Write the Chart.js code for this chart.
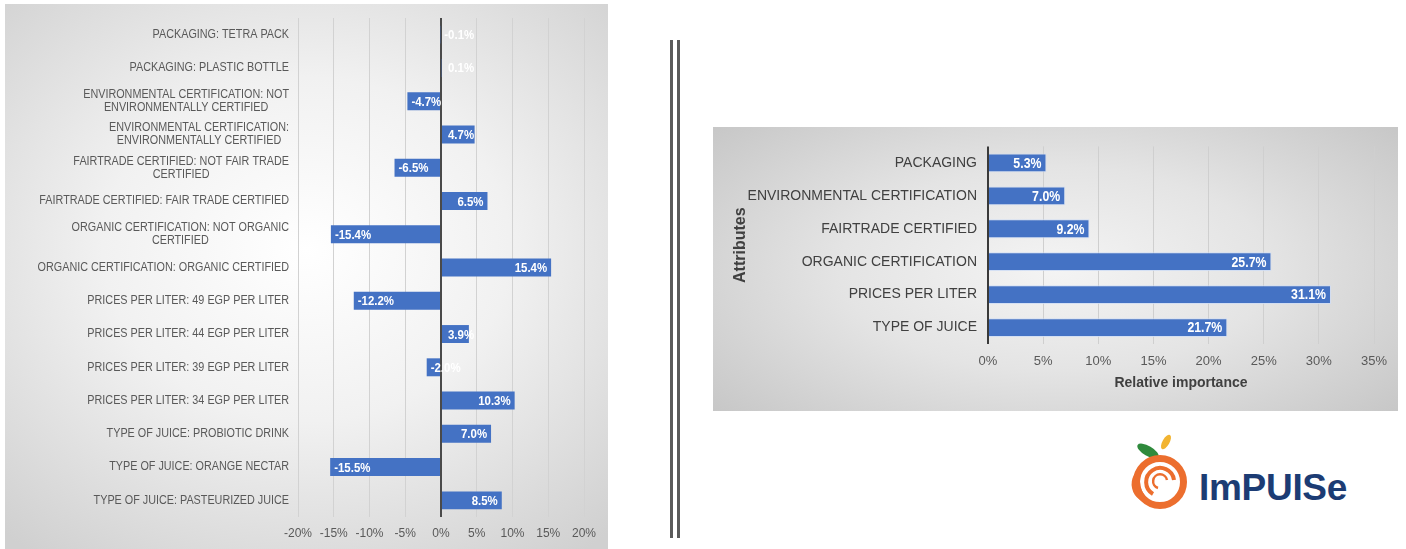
<!DOCTYPE html>
<html lang="en">
<head>
<meta charset="utf-8">
<title>Part-worth utilities and relative importance</title>
<script src="https://cdn.jsdelivr.net/npm/chart.js@4.4.1/dist/chart.umd.min.js"></script>
<style>
    html, body { margin: 0; padding: 0; background: #fff; }
    body {
        width: 1406px; height: 549px; position: relative; overflow: hidden;
        font-family: 'Liberation Sans', sans-serif;
    }
    .panel { position: absolute; }
    .panel canvas { position: absolute; left: 0; top: 0; }
    #panel-util {
        left: 5px; top: 4px; width: 603px; height: 545px;
        background: radial-gradient(ellipse 75% 70% at 50% 45%, #ffffff 0%, #f1f1f1 45%, #d0d0d0 100%);
    }
    #panel-imp {
        left: 713px; top: 127px; width: 685px; height: 284px;
        background: radial-gradient(ellipse 70% 80% at 50% 50%, #f4f4f4 0%, #e4e4e4 45%, #c4c4c4 100%);
    }
    .divider { position: absolute; top: 40px; width: 3px; height: 498px; background: #5a5a5a; }
    #logo { position: absolute; left: 1125px; top: 430px; width: 260px; height: 85px; }
    #logo svg { position: absolute; left: 0; top: 0; }
    #logo span {
        position: absolute; left: 74px; top: 38px;
        font-family: 'Liberation Sans', Arial, sans-serif; font-weight: bold;
        font-size: 37px; line-height: 40px; color: #1c3c74; letter-spacing: -0.3px;
    }
</style>
</head>
<body>

<div class="panel" id="panel-util"><canvas id="grafico-utilidades" width="603" height="545"></canvas></div>
<div class="divider" style="left:670px"></div>
<div class="divider" style="left:677px"></div>
<div class="panel" id="panel-imp"><canvas id="grafico-importancia" width="685" height="284"></canvas></div>

<div id="logo">
    <svg width="75" height="85" viewBox="0 0 75 85">
        <ellipse cx="23" cy="21" rx="12" ry="5" fill="#2f8a3c" transform="rotate(30 23 21)"/>
        <ellipse cx="41" cy="12" rx="8" ry="3.5" fill="#f2b431" transform="rotate(-60 41 12)"/>
        <circle cx="35" cy="52" r="23.5" fill="none" stroke="#ec6e2e" stroke-width="7"/>
        <path d="M20 36 A19 19 0 0 0 28 73 A25 25 0 0 1 20 36 Z" fill="#ec6e2e"/>
        <path d="M28 64 A14 14 0 1 1 49 50" fill="none" stroke="#ec6e2e" stroke-width="4"/>
        <path d="M33 58 A7 7 0 1 1 42 50" fill="none" stroke="#ec6e2e" stroke-width="2.5"/>
    </svg>
    <span>ImPUISe</span>
</div>

<script>
'use strict';

/* ─────────────────────────────────────────────────────────────────────────────
   DATOS
───────────────────────────────────────────────────────────────────────────── */
const nivelesAtributo = [
    'PACKAGING: TETRA PACK',
    'PACKAGING: PLASTIC BOTTLE',
    ['ENVIRONMENTAL CERTIFICATION: NOT', 'ENVIRONMENTALLY CERTIFIED'],
    ['ENVIRONMENTAL CERTIFICATION:', 'ENVIRONMENTALLY CERTIFIED'],
    ['FAIRTRADE CERTIFIED: NOT FAIR TRADE', 'CERTIFIED'],
    'FAIRTRADE CERTIFIED: FAIR TRADE CERTIFIED',
    ['ORGANIC CERTIFICATION: NOT ORGANIC', 'CERTIFIED'],
    'ORGANIC CERTIFICATION: ORGANIC CERTIFIED',
    'PRICES PER LITER: 49 EGP PER LITER',
    'PRICES PER LITER: 44 EGP PER LITER',
    'PRICES PER LITER: 39 EGP PER LITER',
    'PRICES PER LITER: 34 EGP PER LITER',
    'TYPE OF JUICE: PROBIOTIC DRINK',
    'TYPE OF JUICE: ORANGE NECTAR',
    'TYPE OF JUICE: PASTEURIZED JUICE'
];
const utilidades = [-0.1, 0.1, -4.7, 4.7, -6.5, 6.5, -15.4, 15.4, -12.2, 3.9, -2.0, 10.3, 7.0, -15.5, 8.5];
const ticksUtilidad = [-20, -15, -10, -5, 0, 5, 10, 15, 20];

const atributos = [
    'PACKAGING',
    'ENVIRONMENTAL CERTIFICATION',
    'FAIRTRADE CERTIFIED',
    'ORGANIC CERTIFICATION',
    'PRICES PER LITER',
    'TYPE OF JUICE'
];
const importancia = [5.3, 7.0, 9.2, 25.7, 31.1, 21.7];
const ticksImportancia = [0, 5, 10, 15, 20, 25, 30, 35];

const AZUL = '#4472c4';
const FUENTE = "'Liberation Sans', sans-serif";

Chart.defaults.font.family = FUENTE;
Chart.defaults.animation = false;

/* ─────────────────────────────────────────────────────────────────────────────
   ETIQUETAS DE VALOR EN LAS BARRAS
   Positivas: alineadas al final de la barra (sin cruzar el eje cero).
   Negativas: pegadas al extremo izquierdo de la barra.
───────────────────────────────────────────────────────────────────────────── */
const etiquetasBarras = {
    id: 'etiquetasBarras',
    afterDatasetsDraw(chart, args, opts) {
        const { ctx } = chart;
        const meta = chart.getDatasetMeta(0);
        const valores = chart.data.datasets[0].data;
        ctx.save();
        ctx.font = opts.font;
        ctx.fillStyle = opts.color;
        ctx.textBaseline = 'middle';
        ctx.textAlign = 'left';
        meta.data.forEach((barra, i) => {
            const v = valores[i];
            const texto = v.toFixed(1) + '%';
            const ancho = ctx.measureText(texto).width * opts.condensar;
            let x;
            if (v >= 0) x = Math.max(barra.x - opts.margen - ancho, barra.base + 6);
            else x = barra.x + opts.margen;
            ctx.save();
            ctx.translate(x, barra.y + 1);
            ctx.scale(opts.condensar, 1);
            ctx.fillText(texto, 0, 0);
            ctx.restore();
        });
        ctx.restore();
    }
};

/* ─────────────────────────────────────────────────────────────────────────────
   ETIQUETAS DE CATEGORÍA (eje Y)
   Las líneas de cada etiqueta van centradas entre sí, y el bloque queda
   alineado a la derecha junto al área del gráfico. Texto algo estrechado.
───────────────────────────────────────────────────────────────────────────── */
const etiquetasCategoria = {
    id: 'etiquetasCategoria',
    afterDraw(chart, args, opts) {
        const { ctx } = chart;
        const escala = chart.scales.y;
        const derecha = escala.right - opts.separacion;
        ctx.save();
        ctx.font = opts.font;
        ctx.fillStyle = opts.color;
        ctx.textBaseline = 'middle';
        ctx.textAlign = 'center';
        chart.data.labels.forEach((etiqueta, i) => {
            const lineas = Array.isArray(etiqueta) ? etiqueta : [etiqueta];
            const anchos = lineas.map(l => ctx.measureText(l).width * opts.condensar);
            const cx = derecha - Math.max(...anchos) / 2;
            const y0 = escala.getPixelForValue(i) - (lineas.length - 1) * opts.interlineado / 2;
            lineas.forEach((l, k) => {
                ctx.save();
                ctx.translate(cx, y0 + k * opts.interlineado);
                ctx.scale(opts.condensar, 1);
                ctx.fillText(l, 0, 0);
                ctx.restore();
            });
        });
        ctx.restore();
    }
};

function ejeTicks(valores) {
    return scale => {
        scale.ticks = valores.map(v => ({ value: v }));
    };
}

/* ─────────────────────────────────────────────────────────────────────────────
   UTILIDADES POR NIVEL (izquierda)
───────────────────────────────────────────────────────────────────────────── */
function renderUtilidades() {
    const canvas = document.getElementById('grafico-utilidades');
    new Chart(canvas, {
        type: 'bar',
        data: {
            labels: nivelesAtributo,
            datasets: [{
                data: utilidades,
                backgroundColor: AZUL,
                categoryPercentage: 0.6,
                barPercentage: 0.9
            }]
        },
        plugins: [etiquetasBarras, etiquetasCategoria],
        options: {
            indexAxis: 'y',
            responsive: false,
            layout: { padding: { top: 14, right: 24, left: 0, bottom: 0 } },
            plugins: {
                legend: { display: false },
                tooltip: { enabled: false },
                etiquetasBarras: { font: 'bold 13px ' + FUENTE, color: '#ffffff', margen: 4, condensar: 0.88 },
                etiquetasCategoria: {
                    font: '12px ' + FUENTE, color: '#595959',
                    separacion: 9, interlineado: 13, condensar: 0.9
                }
            },
            scales: {
                x: {
                    min: -20, max: 20,
                    afterBuildTicks: ejeTicks(ticksUtilidad),
                    afterFit: s => { s.height = 32; },
                    border: { display: false },
                    grid: {
                        drawTicks: false,
                        color: c => c.tick && c.tick.value === 0 ? '#4a4a4a' : '#d2d2d2',
                        lineWidth: c => c.tick && c.tick.value === 0 ? 2 : 1
                    },
                    ticks: {
                        padding: 9,
                        color: '#595959',
                        font: { size: 12 },
                        callback: v => v + '%'
                    }
                },
                y: {
                    afterFit: s => { s.width = 293; },
                    border: { display: false },
                    grid: { display: false, drawTicks: false },
                    ticks: { display: false }
                }
            }
        }
    });
}

/* ─────────────────────────────────────────────────────────────────────────────
   IMPORTANCIA RELATIVA POR ATRIBUTO (derecha)
───────────────────────────────────────────────────────────────────────────── */
function renderImportancia() {
    const canvas = document.getElementById('grafico-importancia');
    new Chart(canvas, {
        type: 'bar',
        data: {
            labels: atributos,
            datasets: [{
                data: importancia,
                backgroundColor: AZUL,
                borderColor: 'rgba(205,220,245,0.8)',
                borderWidth: 1,
                categoryPercentage: 0.62,
                barPercentage: 0.92
            }]
        },
        plugins: [etiquetasBarras],
        options: {
            indexAxis: 'y',
            responsive: false,
            layout: { padding: { top: 18, right: 24, left: 0, bottom: 0 } },
            plugins: {
                legend: { display: false },
                tooltip: { enabled: false },
                etiquetasBarras: { font: 'bold 14px ' + FUENTE, color: '#ffffff', margen: 5, condensar: 0.88 }
            },
            scales: {
                x: {
                    min: 0, max: 35,
                    afterBuildTicks: ejeTicks(ticksImportancia),
                    afterFit: s => { s.height = 67; },
                    border: { display: false },
                    grid: {
                        drawTicks: false,
                        color: c => c.tick && c.tick.value === 0 ? '#3a3a3a' : '#cfcfcf',
                        lineWidth: c => c.tick && c.tick.value === 0 ? 2 : 1
                    },
                    ticks: {
                        padding: 10,
                        color: '#595959',
                        font: { size: 13 },
                        callback: v => v + '%'
                    },
                    title: {
                        display: true,
                        text: 'Relative importance',
                        color: '#404040',
                        font: { size: 14, weight: 'bold' },
                        padding: { top: 0, bottom: 19 }
                    }
                },
                y: {
                    afterFit: s => { s.width = 275; },
                    border: { display: false },
                    grid: { display: false, drawTicks: false },
                    ticks: {
                        padding: 11,
                        color: '#404040',
                        font: { size: 14 }
                    },
                    title: {
                        display: true,
                        text: 'Attributes',
                        color: '#404040',
                        font: { size: 16, weight: 'bold' },
                        padding: { top: 18, bottom: 0 }
                    }
                }
            }
        }
    });
}

renderUtilidades();
renderImportancia();
</script>
</body>
</html>
